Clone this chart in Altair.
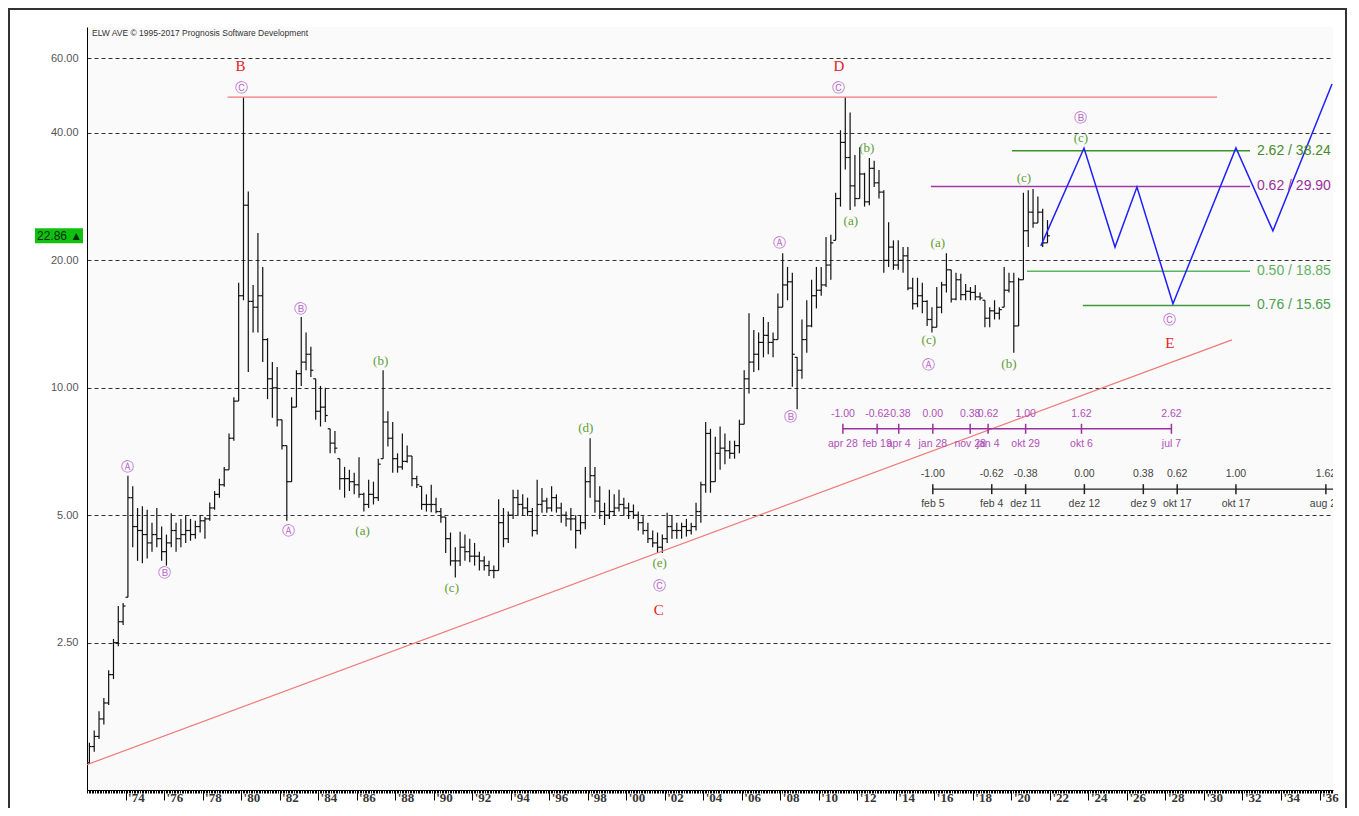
import altair as alt
import pandas as pd

alt.data_transformers.disable_max_rows()

# ---------------- data (quarterly OHLC, 1972 Q1 .. 2021 Q4) ----------------
first_year = 1972
high = [
    1.45, 1.55, 1.72, 1.85,   2.15, 2.55, 3.05, 3.10,   6.20, 5.85, 5.20, 5.25,
    5.15, 4.80, 5.20, 4.70,   4.50, 5.05, 4.80, 4.90,   5.00, 4.90, 4.85, 5.00,
    4.95, 5.36, 5.70, 6.10,   6.50, 7.80, 9.50, 17.7,   48.6, 29.1, 17.5, 23.2,
    19.3, 13.1, 11.5, 11.2,   8.4, 7.3, 9.5, 11.0,      14.7, 13.5, 12.5, 10.5,
    10.1, 10.0, 8.0, 7.9,     6.8, 6.5, 6.4, 6.3,       6.85, 5.65, 6.06, 6.0,
    6.8, 11.0, 8.8, 8.3,      7.0, 7.8, 7.3, 6.9,       6.2, 5.85, 5.6, 5.9,
    5.5, 5.2, 4.95, 4.55,     4.2, 4.57, 4.5, 4.4,      4.3, 4.1, 4.0, 3.9,
    3.8, 5.45, 5.2, 5.1,      5.74, 5.74, 5.6, 5.5,     5.2, 6.06, 5.8, 5.5,
    5.85, 5.6, 5.35, 5.1,     5.2, 5.0, 5.0, 6.5,       7.6, 6.5, 5.85, 5.35,
    5.74, 5.6, 5.74, 5.5,     5.35, 5.3, 5.1, 4.97,     4.8, 4.6, 4.55, 4.5,
    5.07, 5.0, 4.8, 4.8,      4.9, 4.8, 5.35, 6.0,      8.3, 8.0, 7.66, 8.1,
    7.8, 7.5, 7.5, 8.4,       11.0, 15.0, 13.7, 13.5,   14.7, 14.3, 13.5, 16.7,
    20.8, 19.3, 18.7, 11.8,   14.5, 16.1, 18.0, 19.3,   19.3, 22.7, 23.0, 28.9,
    40.6, 48.6, 44.7, 35.5,   37.0, 32.2, 34.9, 34.4,   32.7, 29.3, 24.6, 22.3,
    22.3, 21.5, 21.5, 18.2,   18.2, 17.7, 16.1, 15.5,   17.3, 17.8, 20.8, 19.0,
    18.7, 18.6, 17.6, 17.3,   17.5, 16.8, 16.1, 15.5,   16.1, 15.5, 19.3, 18.7,
    18.7, 18.2, 28.9, 29.3,   29.5, 28.3, 26.5, 24.9,
]
low = [
    1.30, 1.38, 1.48, 1.60,   1.78, 2.05, 2.45, 2.75,   3.20, 4.20, 3.90, 3.85,
    3.95, 4.10, 4.20, 3.90,   3.80, 4.20, 4.10, 4.20,   4.30, 4.35, 4.40, 4.55,
    4.40, 4.85, 5.15, 5.50,   5.84, 6.40, 7.50, 9.30,   16.1, 10.9, 13.5, 13.5,
    11.5, 9.4, 8.5, 8.1,      7.15, 4.85, 6.0, 9.0,     10.1, 11.0, 10.6, 8.4,
    8.1, 8.3, 7.0, 7.0,       5.74, 5.5, 5.7, 5.6,      5.5, 5.1, 5.2, 5.3,
    5.4, 6.8, 7.27, 6.3,      6.3, 6.4, 6.65, 5.85,     5.8, 5.15, 5.1, 5.08,
    5.05, 4.8, 4.07, 3.8,     3.56, 3.79, 3.9, 3.87,    3.8, 3.7, 3.7, 3.59,
    3.55, 3.7, 4.2, 4.3,      4.9, 5.0, 5.0, 4.98,      4.45, 4.5, 5.07, 5.07,
    5.1, 5.07, 4.8, 4.7,      4.6, 4.17, 4.5, 4.63,     5.5, 5.07, 4.9, 4.74,
    4.9, 4.98, 5.1, 4.98,     4.9, 4.9, 4.6, 4.5,       4.3, 4.2, 4.07, 4.07,
    4.3, 4.4, 4.4, 4.4,       4.45, 4.5, 4.6, 4.8,      5.65, 5.65, 6.0, 6.4,
    6.6, 6.8, 6.8, 7.0,       8.2, 9.7, 10.9, 11.0,     11.8, 12.0, 11.8, 13.0,
    15.5, 16.1, 10.05, 8.9,   10.5, 12.1, 13.9, 15.4,   16.5, 17.3, 18.0, 22.3,
    26.8, 32.8, 26.3, 26.8,   28.0, 26.8, 27.0, 29.8,   28.0, 18.7, 19.3, 19.0,
    19.0, 18.7, 17.0, 15.3,   15.5, 15.0, 14.0, 13.5,   13.9, 15.0, 16.8, 15.9,
    16.1, 16.1, 16.1, 16.1,   16.1, 16.1, 13.9, 13.9,   14.5, 14.5, 15.5, 16.8,
    12.1, 14.0, 18.0, 21.5,   23.9, 24.5, 21.5, 22.0,
]
close = [
    1.42, 1.50, 1.65, 1.80,   2.10, 2.50, 2.80, 3.05,   5.50, 4.70, 4.60, 4.50,
    4.30, 4.50, 4.40, 4.10,   4.30, 4.60, 4.40, 4.50,   4.60, 4.50, 4.70, 4.85,
    4.90, 5.20, 5.60, 5.90,   6.40, 7.60, 9.30, 16.5,   27.0, 16.0, 15.5, 16.5,
    13.0, 10.5, 10.0, 8.4,    7.3, 6.0, 9.0, 10.8,      11.5, 12.0, 11.0, 8.8,
    9.0, 8.6, 7.4, 7.2,       6.1, 6.1, 6.0, 5.9,       5.6, 5.3, 5.6, 5.5,
    6.6, 8.3, 7.6, 6.8,       6.5, 6.7, 6.9, 6.1,       5.9, 5.3, 5.3, 5.3,
    5.1, 4.95, 4.4, 3.9,      3.9, 4.2, 4.1, 4.0,       4.0, 3.9, 3.8, 3.7,
    3.7, 4.8, 4.4, 5.0,       5.5, 5.3, 5.2, 5.1,       4.6, 5.3, 5.4, 5.2,
    5.5, 5.2, 5.0, 4.9,       4.9, 4.6, 4.8, 6.0,       6.2, 5.4, 5.1, 5.0,
    5.1, 5.2, 5.3, 5.2,       5.1, 5.0, 4.8, 4.6,       4.4, 4.3, 4.2, 4.4,
    4.7, 4.6, 4.6, 4.7,       4.6, 4.7, 5.1, 5.9,       7.8, 6.0, 7.0, 7.2,
    7.1, 7.0, 7.3, 8.2,       10.5, 11.5, 12.0, 12.8,   13.3, 12.8, 13.0, 15.5,
    17.5, 17.8, 12.0, 11.0,   13.0, 14.0, 16.5, 17.0,   17.5, 19.5, 22.0, 28.0,
    38.0, 35.0, 30.0, 28.0,   32.0, 27.5, 33.0, 30.5,   29.0, 20.0, 21.5, 19.5,
    20.0, 20.5, 17.2, 15.8,   16.5, 16.0, 14.5, 13.9,   15.5, 17.5, 19.0, 16.2,
    18.0, 16.6, 16.9, 16.8,   16.4, 16.3, 14.6, 15.2,   15.0, 15.3, 17.0, 17.8,
    14.0, 18.0, 23.5, 26.0,   24.5, 26.0, 22.0, 22.86,
]

# projection path (blue)
proj_t = [2021.53, 2023.77, 2025.38, 2026.52, 2028.39, 2031.66, 2033.58, 2036.65]
proj_v = [21.64, 36.86, 21.5, 29.8, 15.79, 36.86, 23.48, 52.2]

# red resistance / trend lines
resist_t = [1979.3, 2030.68]
resist_v = 48.6
trend_t = [1972.0, 2031.45]
trend_v = [1.287, 12.98]

# fibonacci price levels
fib_labels = ["2.62 / 38.24", "0.62 / 29.90", "0.50 / 18.85", "0.76 / 15.65"]
fib_values = [36.3, 29.9, 18.85, 15.65]
fib_start = [2020.03, 2015.82, 2020.81, 2023.71]
fib_end = 2032.39
fib_label_t = 2032.75
fib_colors = ["#3f8f2a", "#a03aa6", "#5cb55c", "#3f9a3f"]
fib_text_colors = ["#4a8a2a", "#9b2f9b", "#62b062", "#4f9f4f"]

# time rulers
pr_t = [2011.25, 2013.03, 2014.15, 2015.92, 2017.86, 2018.79, 2020.74, 2023.64, 2028.31]
pr_num = ["-1.00", "-0.62", "-0.38", "0.00", "0.38", "0.62", "1.00", "1.62", "2.62"]
pr_date = ["apr 28", "feb 19", "apr 4", "jan 28", "nov 28", "jan 4", "okt 29", "okt 6", "jul 7"]
pr_level = 8.0

br_t = [2015.92, 2018.98, 2020.74, 2023.79, 2026.85, 2028.61, 2031.66, 2036.33]
br_num = ["-1.00", "-0.62", "-0.38", "0.00", "0.38", "0.62", "1.00", "1.62"]
br_date = ["feb 5", "feb 4", "dez 11", "dez 12", "dez 9", "okt 17", "okt 17", "aug 21"]
br_level = 5.76
br_end = 2036.7

# wave labels
red_txt = ["B", "C", "D", "E"]
red_t = [1979.97, 2001.69, 2011.04, 2028.23]
red_v = [57.6, 2.99, 57.6, 12.77]

circ_txt = ["Ⓐ", "Ⓑ", "Ⓒ", "Ⓐ", "Ⓑ", "Ⓒ", "Ⓐ", "Ⓑ", "Ⓒ", "Ⓐ", "Ⓑ", "Ⓒ"]
circ_t = [1974.10, 1976.03, 1980.03, 1982.47, 1983.09, 2001.74,
          2007.97, 2008.55, 2011.04, 2015.71, 2023.61, 2028.23]
circ_v = [6.51, 3.66, 51.1, 4.59, 15.37, 3.41, 22.0, 8.54, 51.1, 11.33, 43.4, 14.47]

grn_txt = ["(b)", "(a)", "(c)", "(d)", "(e)", "(a)", "(b)", "(a)", "(c)", "(c)", "(b)", "(c)"]
grn_t = [1987.25, 1986.31, 1990.94, 1997.90, 2001.74, 2011.66,
         2012.49, 2016.18, 2015.71, 2020.65, 2019.87, 2023.61]
grn_v = [11.58, 4.59, 3.37, 8.04, 3.86, 24.79, 36.86, 22.0, 12.98, 31.32, 11.39, 38.93]

last_price = 22.86
y_ticks = [2.5, 5, 10, 20, 40, 60]
x_major = list(range(1974, 2037, 2))
x_minor = [round(1972 + m / 12, 4) for m in range(0, 777)]
title_text = "ELW AVE © 1995-2017 Prognosis Software Development"

# ---------------- tables ----------------
n = len(high)
t = [first_year + 0.125 + 0.25 * i for i in range(n)]
opens = []
for i in range(n):
    prev = close[i - 1] if i > 0 else low[0]
    opens.append(min(max(prev, low[i]), high[i]))
bars = pd.DataFrame({"t": t, "o": opens, "h": high, "l": low, "c": close})

W, H = 1246, 763
xs = alt.Scale(domain=[1972.0, 2036.7], nice=False, zero=False)
ys = alt.Scale(type="log", domain=[1.121, 71.2], nice=False)


def X(f, **kw):
    return alt.X(f, scale=xs, axis=None, **kw)


def Y(f, **kw):
    return alt.Y(f, scale=ys, axis=None, **kw)


# bars with main axes
bar_rule = alt.Chart(bars).mark_rule(color="#111111", strokeWidth=1.2).encode(
    x=alt.X("t:Q", scale=xs, title=None, axis=alt.Axis(
        values=x_major, orient="bottom", tickSize=10, tickColor="#000", domainColor="#000",
        grid=False, labelExpr="\"'\" + substring(toString(datum.value), 2, 4)",
        labelAlign="left", labelBaseline="top", labelPadding=-9, labelOffset=2,
        labelFlush=False, labelOverlap=False, labelFont="Liberation Sans Narrow",
        labelFontSize=13, labelFontWeight="bold", labelColor="#333")),
    y=alt.Y("l:Q", scale=ys, title=None, axis=alt.Axis(
        values=y_ticks, orient="left", format=".2f", grid=True, gridDash=[4, 3],
        gridColor="#333", gridOpacity=1, gridWidth=1, ticks=False, domainColor="#000",
        labelPadding=9, labelFont="Liberation Sans", labelFontSize=11, labelColor="#555")),
    y2="h:Q",
)
open_tick = alt.Chart(bars).mark_tick(orient="horizontal", size=2.4, thickness=1.2,
                                      color="#111", xOffset=-1.2, opacity=1).encode(
    x=X("t:Q"), y=Y("o:Q"))
close_tick = alt.Chart(bars).mark_tick(orient="horizontal", size=2.4, thickness=1.2,
                                       color="#111", xOffset=1.2, opacity=1).encode(
    x=X("t:Q"), y=Y("c:Q"))

# trend line (carries the minor-tick axis)
trend_df = pd.DataFrame({"t1": [trend_t[0]], "t2": [trend_t[1]], "v1": [trend_v[0]], "v2": [trend_v[1]]})
trend = alt.Chart(trend_df).mark_rule(color="#f07878", strokeWidth=1.2).encode(
    x=alt.X("t1:Q", scale=xs, title=None, axis=alt.Axis(
        values=x_minor, orient="bottom", tickSize=3, tickColor="#000", labels=False,
        domain=False, grid=False)),
    x2="t2:Q", y=Y("v1:Q"), y2="v2:Q")

resist_df = pd.DataFrame({"t1": [resist_t[0]], "t2": [resist_t[1]], "v": [resist_v]})
resist = alt.Chart(resist_df).mark_rule(color="#f07878", strokeWidth=1.2).encode(
    x=X("t1:Q"), x2="t2:Q", y=Y("v:Q"))

fib_df = pd.DataFrame({"lab": fib_labels, "v": fib_values, "t1": fib_start,
                       "t2": [fib_end] * 4, "tl": [fib_label_t] * 4,
                       "col": fib_colors, "tcol": fib_text_colors})
fib_lines = alt.Chart(fib_df).mark_rule(strokeWidth=1.6).encode(
    x=X("t1:Q"), x2="t2:Q", y=Y("v:Q"), color=alt.Color("col:N", scale=None))
fib_text = alt.Chart(fib_df).mark_text(align="left", baseline="middle", fontSize=14,
                                       font="Liberation Sans").encode(
    x=X("tl:Q"), y=Y("v:Q"), text="lab:N", color=alt.Color("tcol:N", scale=None))

# projection
proj_df = pd.DataFrame({"t": proj_t, "v": proj_v, "i": list(range(len(proj_t)))})
proj = alt.Chart(proj_df).mark_line(color="#2020ff", strokeWidth=1.5).encode(
    x=X("t:Q"), y=Y("v:Q"), order="i:Q")

# purple ruler
pr_df = pd.DataFrame({"t": pr_t, "num": pr_num, "date": pr_date, "v": [pr_level] * len(pr_t)})
pr_line_df = pd.DataFrame({"t1": [pr_t[0]], "t2": [pr_t[-1]], "v": [pr_level]})
pr_line = alt.Chart(pr_line_df).mark_rule(color="#9b30a0", strokeWidth=1.5).encode(
    x=X("t1:Q"), x2="t2:Q", y=Y("v:Q"))
pr_ticks = alt.Chart(pr_df).mark_tick(orient="vertical", size=10, thickness=1.5,
                                      color="#9b30a0", opacity=1).encode(x=X("t:Q"), y=Y("v:Q"))
pr_num_t = alt.Chart(pr_df).mark_text(dy=-15, fontSize=10.5, color="#b050b8",
                                      font="Liberation Sans").encode(x=X("t:Q"), y=Y("v:Q"), text="num:N")
pr_date_t = alt.Chart(pr_df).mark_text(dy=15, fontSize=10.5, color="#b050b8",
                                       font="Liberation Sans").encode(x=X("t:Q"), y=Y("v:Q"), text="date:N")

# black ruler
br_df = pd.DataFrame({"t": br_t, "num": br_num, "date": br_date, "v": [br_level] * len(br_t)})
br_line_df = pd.DataFrame({"t1": [br_t[0]], "t2": [br_end], "v": [br_level]})
br_line = alt.Chart(br_line_df).mark_rule(color="#222", strokeWidth=1.3).encode(
    x=X("t1:Q"), x2="t2:Q", y=Y("v:Q"))
br_ticks = alt.Chart(br_df).mark_tick(orient="vertical", size=10, thickness=1.5,
                                      color="#222", opacity=1).encode(x=X("t:Q"), y=Y("v:Q"))
br_num_t = alt.Chart(br_df).mark_text(dy=-15, fontSize=10.5, color="#444", clip=True,
                                      font="Liberation Sans").encode(x=X("t:Q"), y=Y("v:Q"), text="num:N")
br_date_t = alt.Chart(br_df).mark_text(dy=15, fontSize=10.5, color="#444", clip=True,
                                       font="Liberation Sans").encode(x=X("t:Q"), y=Y("v:Q"), text="date:N")

# wave labels
red_df = pd.DataFrame({"t": red_t, "v": red_v, "s": red_txt})
red_l = alt.Chart(red_df).mark_text(fontSize=15, color="#e8201c", font="Liberation Serif",
                                    baseline="middle").encode(x=X("t:Q"), y=Y("v:Q"), text="s:N")
circ_df = pd.DataFrame({"t": circ_t, "v": circ_v, "s": circ_txt})
circ_l = alt.Chart(circ_df).mark_text(fontSize=13, color="#b868cc", font="DejaVu Sans",
                                      baseline="middle").encode(x=X("t:Q"), y=Y("v:Q"), text="s:N")
grn_df = pd.DataFrame({"t": grn_t, "v": grn_v, "s": grn_txt})
grn_l = alt.Chart(grn_df).mark_text(fontSize=13, color="#5c9e34", font="Liberation Serif",
                                    baseline="middle").encode(x=X("t:Q"), y=Y("v:Q"), text="s:N")

# last price box
lp_df = pd.DataFrame({"v": [last_price], "s": [f"{last_price:.2f} ▲"]})
lp_box = alt.Chart(lp_df).mark_tick(orient="horizontal", size=48, thickness=15,
                                    color="#10c010", opacity=1).encode(
    x=alt.value(-28), y=Y("v:Q"))
lp_txt = alt.Chart(lp_df).mark_text(align="left", baseline="middle", fontSize=12,
                                    color="#033003", font="Liberation Sans").encode(
    x=alt.value(-50), y=Y("v:Q"), text="s:N")

# title / frame
title_df = pd.DataFrame({"s": [title_text]})
title_l = alt.Chart(title_df).mark_text(align="left", baseline="middle", fontSize=8.5,
                                        color="#333", font="Liberation Sans").encode(
    x=alt.value(5), y=alt.value(6), text="s:N")
frame = alt.Chart(title_df).mark_rect(fill="transparent", stroke="#333", strokeWidth=2).encode(
    x=alt.value(-78), x2=alt.value(1259), y=alt.value(-18), y2=alt.value(800))

chart = alt.layer(
    bar_rule, trend, resist, fib_lines, proj,
    pr_line, pr_ticks, pr_num_t, pr_date_t,
    br_line, br_ticks, br_num_t, br_date_t,
    open_tick, close_tick, fib_text, red_l, circ_l, grn_l,
    lp_box, lp_txt, title_l, frame,
).resolve_axis(x="independent", y="independent").properties(
    width=W, height=H,
    autosize=alt.AutoSizeParams(type="none"),
    padding={"left": 79, "top": 19, "right": 18, "bottom": 18},
    background="#ffffff",
).configure_view(fill="#fafafa", stroke=None)

chart.save("out.html", embed_options={"renderer": "svg", "actions": False})
